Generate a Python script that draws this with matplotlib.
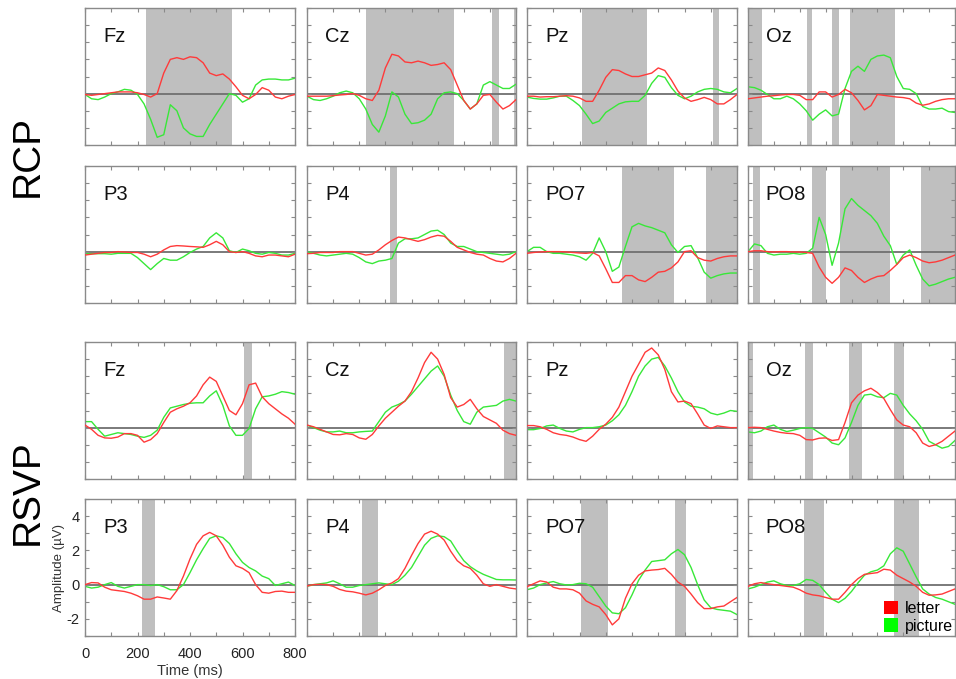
import numpy as np
import matplotlib
matplotlib.use("Agg")
import matplotlib.pyplot as plt
from matplotlib.patches import Patch

plt.rcParams['font.family'] = ['Liberation Sans', 'DejaVu Sans']

# ---------------- data ----------------
time_ms = list(range(0, 801, 25))  # 33 samples
channels = ["Fz", "Cz", "Pz", "Oz", "P3", "P4", "PO7", "PO8"]
paradigms = ["RCP", "RSVP"]

# RCP ---------------------------------------------------------------
rcp_fz_letter = [-0.05, -0.1, -0.05, 0.0, 0.05, 0.1, 0.1, 0.1, 0.05, -0.05, -0.2, 0.0, 1.2, 2.0, 2.1, 2.0, 2.15,
                 2.1, 1.8, 1.2, 1.05, 1.15, 0.85, 0.4, -0.1, -0.3, -0.05, 0.35, 0.2, -0.2, -0.3, -0.15, -0.05]
rcp_fz_picture = [-0.05, -0.3, -0.35, -0.2, 0.0, 0.1, 0.25, 0.2, -0.05, -0.6, -1.5, -2.55, -2.4, -0.65, -1.0, -2.0,
                  -2.35, -2.5, -2.5, -1.8, -1.2, -0.6, 0.0, -0.1, -0.5, -0.3, 0.5, 0.8, 0.85, 0.85, 0.8, 0.8, 0.9]
rcp_cz_letter = [-0.15, -0.15, -0.15, -0.15, -0.12, -0.08, -0.05, 0.0, -0.1, -0.3, -0.4, 0.2, 1.5, 2.3, 2.2, 1.85,
                 1.8, 1.9, 1.8, 1.65, 1.7, 1.8, 1.4, 0.5, -0.4, -0.9, -0.6, -0.1, -0.05, -0.5, -0.9, -0.7, -0.35]
rcp_cz_picture = [-0.15, -0.35, -0.4, -0.3, -0.15, 0.05, 0.15, 0.05, -0.3, -0.9, -1.8, -2.25, -1.3, 0.1, -0.2, -1.2,
                  -1.75, -1.7, -1.55, -1.2, -0.3, 0.05, 0.1, 0.0, -0.4, -0.9, -0.6, 0.5, 0.7, 0.5, 0.3, 0.3, 0.55]
rcp_pz_letter = [-0.15, -0.15, -0.2, -0.18, -0.18, -0.15, -0.12, -0.15, -0.25, -0.45, -0.45, 0.2, 0.95, 1.4, 1.35,
                 1.15, 1.0, 1.0, 1.1, 1.2, 1.5, 1.35, 0.8, 0.15, -0.25, -0.45, -0.35, -0.22, -0.35, -0.6, -0.6,
                 -0.35, -0.05]
rcp_pz_picture = [-0.2, -0.28, -0.32, -0.32, -0.25, -0.15, -0.15, -0.4, -0.7, -1.2, -1.75, -1.6, -1.1, -0.85, -0.6,
                  -0.48, -0.45, -0.45, -0.1, 0.6, 1.05, 0.95, 0.35, -0.1, -0.3, -0.15, 0.1, 0.25, 0.3, 0.25, 0.1,
                  0.05, 0.3]
rcp_oz_letter = [-0.3, -0.25, -0.2, -0.15, -0.12, -0.08, -0.05, -0.05, -0.1, -0.35, -0.35, 0.1, 0.1, -0.2, -0.05,
                 0.25, 0.05, -0.4, -0.95, -0.7, -0.05, -0.1, -0.15, -0.2, -0.23, -0.3, -0.55, -0.68, -0.6, -0.45,
                 -0.35, -0.3, -0.3]
rcp_oz_picture = [0.4, 0.35, 0.2, -0.05, -0.3, -0.3, -0.15, -0.3, -0.6, -1.0, -1.55, -1.2, -0.95, -1.3, -1.2, 0.3,
                  1.3, 1.6, 1.3, 2.0, 2.2, 2.25, 2.1, 1.0, 0.3, 0.25, 0.0, -0.75, -0.9, -0.9, -0.85, -1.05, -1.1]
rcp_p3_letter = [-0.2, -0.15, -0.1, -0.05, -0.05, 0.0, -0.02, -0.05, -0.05, -0.15, -0.3, -0.15, 0.1, 0.3, 0.35,
                 0.33, 0.3, 0.28, 0.25, 0.4, 0.6, 0.4, 0.0, -0.05, 0.0, -0.1, -0.25, -0.3, -0.2, -0.2, -0.25, -0.3,
                 -0.15]
rcp_p3_picture = [-0.12, -0.12, -0.12, -0.12, -0.15, -0.1, -0.1, -0.1, -0.35, -0.7, -1.05, -0.7, -0.4, -0.5, -0.5,
                  -0.3, -0.05, 0.15, 0.3, 0.8, 1.1, 0.8, 0.05, -0.05, 0.15, 0.05, -0.1, -0.15, -0.05, -0.1, -0.2,
                  -0.2, -0.1]
rcp_p4_letter = [-0.12, -0.1, -0.05, -0.05, -0.05, 0.0, 0.0, 0.0, -0.1, -0.2, -0.15, 0.1, 0.4, 0.65, 0.85, 0.8,
                 0.7, 0.6, 0.7, 0.85, 0.95, 0.9, 0.6, 0.25, 0.1, -0.05, -0.15, -0.2, -0.4, -0.55, -0.6, -0.4, -0.1]
rcp_p4_picture = [0.0, -0.1, -0.2, -0.25, -0.2, -0.15, -0.1, -0.15, -0.35, -0.6, -0.7, -0.55, -0.5, -0.4, 0.5,
                  0.75, 0.75, 0.8, 1.0, 1.2, 1.25, 1.0, 0.5, 0.3, 0.3, 0.15, 0.0, -0.05, -0.1, -0.15, -0.2, -0.15,
                  0.0]
rcp_po7_letter = [-0.1, -0.05, -0.02, 0.0, 0.0, 0.0, -0.02, -0.05, -0.08, -0.1, -0.05, -0.25, -1.0, -1.8, -1.8,
                  -1.4, -1.4, -1.65, -1.75, -1.5, -1.2, -1.15, -0.95, -0.6, 0.0, 0.05, -0.35, -0.5, -0.55, -0.4,
                  -0.3, -0.25, -0.25]
rcp_po7_picture = [0.0, 0.25, 0.25, 0.0, -0.1, -0.1, -0.15, -0.2, -0.3, -0.5, -0.1, 0.8, 0.0, -1.15, -0.9, 0.3,
                   1.45, 1.65, 1.5, 1.4, 1.25, 1.1, 0.4, -0.05, 0.3, 0.35, -0.35, -1.2, -1.55, -1.4, -1.3, -1.25,
                   -1.25]
rcp_po8_letter = [0.0, 0.05, 0.05, 0.0, -0.02, 0.0, 0.0, -0.02, -0.02, -0.05, -0.1, -0.9, -1.5, -1.85, -1.5, -0.95,
                  -1.1, -1.5, -1.8, -1.6, -1.45, -1.4, -1.1, -0.75, -0.35, -0.2, -0.35, -0.55, -0.65, -0.6, -0.5,
                  -0.35, -0.2]
rcp_po8_picture = [0.0, 0.45, 0.35, -0.1, -0.2, -0.15, -0.15, -0.1, -0.15, -0.1, 0.2, 2.0, 1.0, -0.8, 0.5, 2.5,
                   3.1, 2.7, 2.4, 2.1, 1.65, 0.9, 0.35, -0.75, -0.2, 0.1, -0.8, -1.6, -2.0, -1.9, -1.75, -1.6, -1.5]

# RSVP --------------------------------------------------------------
rsvp_fz_letter = [0.15, -0.1, -0.45, -0.6, -0.62, -0.55, -0.35, -0.35, -0.45, -0.85, -0.7, -0.35, 0.3, 0.9, 1.1,
                  1.25, 1.45, 1.85, 2.5, 2.95, 2.7, 1.85, 1.0, 0.75, 1.4, 2.5, 2.6, 1.8, 1.4, 1.1, 0.8, 0.55, 0.2]
rsvp_fz_picture = [0.35, 0.35, -0.1, -0.5, -0.4, -0.3, -0.35, -0.4, -0.5, -0.57, -0.45, -0.15, 0.6, 1.15, 1.25,
                   1.35, 1.42, 1.45, 1.45, 1.85, 2.15, 1.3, 0.1, -0.45, -0.45, -0.05, 1.1, 1.8, 1.85, 1.95, 2.1,
                   2.05, 1.95]
rsvp_cz_letter = [0.15, 0.05, -0.1, -0.25, -0.4, -0.42, -0.35, -0.4, -0.6, -0.68, -0.4, 0.1, 0.55, 0.9, 1.25, 1.55,
                  2.1, 2.9, 3.8, 4.4, 4.0, 3.1, 1.75, 1.2, 1.35, 1.65, 1.1, 0.65, 0.45, 0.25, -0.15, -0.35, -0.45]
rsvp_cz_picture = [0.15, 0.0, -0.15, -0.25, -0.25, -0.2, -0.3, -0.3, -0.25, -0.22, -0.2, 0.35, 0.9, 1.2, 1.35,
                   1.55, 1.95, 2.4, 2.85, 3.3, 3.6, 3.0, 1.9, 1.0, 0.35, 0.2, 0.9, 1.2, 1.25, 1.3, 1.55, 1.65, 1.55]
rsvp_pz_letter = [0.12, 0.12, 0.05, -0.1, -0.3, -0.4, -0.45, -0.55, -0.7, -0.8, -0.5, -0.1, 0.2, 0.6, 1.2, 2.1,
                  3.0, 3.7, 4.4, 4.65, 4.25, 3.4, 2.1, 1.5, 1.55, 1.4, 0.8, 0.15, -0.05, 0.1, 0.05, 0.0, 0.0]
rsvp_pz_picture = [-0.12, -0.12, -0.05, 0.1, 0.15, -0.05, -0.2, -0.25, -0.1, 0.0, 0.0, 0.05, 0.15, 0.4, 0.75, 1.3,
                   2.1, 3.0, 3.6, 4.0, 4.1, 3.6, 2.9, 2.1, 1.5, 1.25, 1.2, 1.1, 0.85, 0.75, 0.85, 1.0, 0.95]
rsvp_oz_letter = [0.0, 0.02, 0.0, -0.1, -0.2, -0.28, -0.33, -0.35, -0.45, -0.7, -0.72, -0.62, -0.6, -0.75, -0.7,
                  0.3, 1.45, 1.9, 2.15, 2.3, 2.05, 1.7, 1.05, 0.45, 0.15, 0.05, -0.3, -0.9, -1.1, -1.0, -0.8, -0.5,
                  -0.2]
rsvp_oz_picture = [-0.25, -0.3, -0.2, 0.05, 0.15, -0.1, -0.23, -0.15, -0.05, 0.0, -0.05, -0.3, -0.55, -0.9, -1.0,
                   -0.6, 0.3, 1.3, 1.9, 1.95, 1.8, 1.75, 2.0, 1.9, 1.3, 0.8, 0.4, -0.1, -0.8, -1.0, -1.2, -1.1,
                   -0.75]
rsvp_p3_letter = [0.0, 0.12, 0.1, -0.15, -0.3, -0.35, -0.4, -0.5, -0.65, -0.85, -0.85, -0.72, -0.78, -0.85, -0.35,
                  0.5, 1.5, 2.35, 2.85, 3.05, 2.85, 2.3, 1.6, 1.1, 0.95, 0.7, 0.0, -0.45, -0.5, -0.4, -0.38, -0.45,
                  -0.45]
rsvp_p3_picture = [-0.1, -0.2, -0.15, 0.0, 0.12, -0.1, -0.2, -0.1, 0.0, 0.0, -0.05, 0.0, -0.12, -0.3, -0.3, 0.0,
                   0.7, 1.45, 2.1, 2.7, 2.85, 2.75, 2.4, 1.8, 1.3, 1.0, 0.8, 0.5, 0.35, -0.05, 0.05, 0.15, -0.05]
rsvp_p4_letter = [-0.08, 0.0, 0.02, 0.0, -0.1, -0.28, -0.38, -0.42, -0.5, -0.6, -0.5, -0.3, -0.05, 0.1, 0.35,
                  0.95, 1.7, 2.4, 2.95, 3.12, 2.95, 2.6, 1.95, 1.4, 1.1, 0.95, 0.55, 0.05, -0.1, 0.0, -0.1, -0.2,
                  -0.25]
rsvp_p4_picture = [-0.1, 0.0, 0.05, 0.1, 0.22, 0.05, -0.15, -0.15, -0.05, 0.0, 0.05, 0.1, 0.05, 0.0, 0.2, 0.55,
                   1.0, 1.65, 2.3, 2.7, 2.85, 2.8, 2.55, 1.95, 1.4, 1.05, 0.8, 0.6, 0.45, 0.3, 0.28, 0.28, 0.27]
rsvp_po7_letter = [-0.12, 0.05, 0.22, 0.15, -0.15, -0.25, -0.25, -0.3, -0.5, -0.95, -1.15, -1.3, -1.75, -2.35,
                   -2.0, -0.8, 0.05, 0.55, 0.8, 0.85, 0.88, 0.95, 0.6, 0.15, -0.1, -0.55, -1.05, -1.4, -1.4, -1.3,
                   -1.25, -1.0, -0.75]
rsvp_po7_picture = [-0.3, -0.2, 0.0, 0.1, 0.18, 0.05, -0.02, 0.0, 0.08, 0.05, -0.15, -0.7, -1.25, -1.65, -1.7,
                    -1.35, -0.6, 0.25, 0.85, 1.35, 1.4, 1.45, 1.8, 2.05, 1.75, 1.0, 0.0, -0.9, -1.35, -1.45, -1.5,
                    -1.55, -1.75]
rsvp_po8_letter = [-0.1, 0.05, 0.12, 0.05, 0.0, -0.05, -0.1, -0.15, -0.3, -0.5, -0.6, -0.65, -0.75, -0.85, -0.85,
                   -0.45, 0.0, 0.35, 0.6, 0.65, 0.7, 0.9, 0.85, 0.55, 0.35, 0.15, -0.1, -0.45, -0.62, -0.6, -0.55,
                   -0.4, -0.25]
rsvp_po8_picture = [-0.25, -0.15, 0.0, 0.15, 0.22, 0.05, -0.05, -0.05, 0.05, 0.3, 0.25, 0.0, -0.45, -0.85, -1.05,
                    -0.8, -0.4, 0.1, 0.55, 0.75, 0.85, 1.1, 1.8, 2.15, 1.95, 1.2, 0.45, -0.25, -0.55, -0.75, -0.85,
                    -1.0, -1.15]

# significant intervals (ms)
rcp_sig = {
    "Fz": [(232, 559)],
    "Cz": [(225, 562), (710, 736), (792, 800)],
    "Pz": [(208, 456), (709, 730)],
    "Oz": [(0, 54), (228, 248), (326, 351), (396, 570)],
    "P3": [],
    "P4": [(316, 346)],
    "PO7": [(362, 560), (681, 800)],
    "PO8": [(19, 48), (246, 303), (355, 548), (668, 800)],
}
rsvp_sig = {
    "Fz": [(607, 635)],
    "Cz": [(754, 800)],
    "Pz": [],
    "Oz": [(0, 19), (222, 252), (390, 439), (564, 603)],
    "P3": [(218, 267)],
    "P4": [(212, 270)],
    "PO7": [(205, 307), (564, 605)],
    "PO8": [(217, 295), (563, 660)],
}

series = {
    ("RCP", "Fz"): (rcp_fz_letter, rcp_fz_picture),
    ("RCP", "Cz"): (rcp_cz_letter, rcp_cz_picture),
    ("RCP", "Pz"): (rcp_pz_letter, rcp_pz_picture),
    ("RCP", "Oz"): (rcp_oz_letter, rcp_oz_picture),
    ("RCP", "P3"): (rcp_p3_letter, rcp_p3_picture),
    ("RCP", "P4"): (rcp_p4_letter, rcp_p4_picture),
    ("RCP", "PO7"): (rcp_po7_letter, rcp_po7_picture),
    ("RCP", "PO8"): (rcp_po8_letter, rcp_po8_picture),
    ("RSVP", "Fz"): (rsvp_fz_letter, rsvp_fz_picture),
    ("RSVP", "Cz"): (rsvp_cz_letter, rsvp_cz_picture),
    ("RSVP", "Pz"): (rsvp_pz_letter, rsvp_pz_picture),
    ("RSVP", "Oz"): (rsvp_oz_letter, rsvp_oz_picture),
    ("RSVP", "P3"): (rsvp_p3_letter, rsvp_p3_picture),
    ("RSVP", "P4"): (rsvp_p4_letter, rsvp_p4_picture),
    ("RSVP", "PO7"): (rsvp_po7_letter, rsvp_po7_picture),
    ("RSVP", "PO8"): (rsvp_po8_letter, rsvp_po8_picture),
}

# ---------------- layout ----------------
W, H = 956, 679
fig = plt.figure(figsize=(W / 100, H / 100), dpi=100)

col_left = [85, 307, 527, 748]
col_width = [210, 209, 210, 207]
row_top = [8, 166, 342, 499]
row_h = 137

red = "#ff3a3a"
green = "#38e838"
shade = "#bfbfbf"
spine_c = "#8a8a8a"

for p_i, par in enumerate(paradigms):
    sig = rcp_sig if par == "RCP" else rsvp_sig
    for c_i, ch in enumerate(channels):
        r = p_i * 2 + c_i // 4
        c = c_i % 4
        left = col_left[c] / W
        bottom = 1 - (row_top[r] + row_h) / H
        ax = fig.add_axes([left, bottom, col_width[c] / W, row_h / H])
        for (a, b) in sig[ch]:
            ax.axvspan(a, b, color=shade, lw=0, zorder=0)
        ax.axhline(0, color="#707070", lw=1.3, zorder=1)
        let, pic = series[(par, ch)]
        ax.plot(time_ms, pic, color=green, lw=1.0, zorder=2, solid_joinstyle="round")
        ax.plot(time_ms, let, color=red, lw=1.0, zorder=3, solid_joinstyle="round")
        ax.set_xlim(0, 800)
        ax.set_ylim(-3, 5)
        ax.set_xticks(range(0, 801, 100))
        ax.set_yticks(range(-3, 6))
        ax.tick_params(direction="in", top=True, right=True, length=3, width=0.8,
                       color=spine_c, labelsize=10.5, labelcolor="#222222")
        for s in ax.spines.values():
            s.set_color(spine_c)
            s.set_linewidth(1.0)
        ax.text(0.086, 0.79, ch, transform=ax.transAxes, fontsize=14.5,
                va="center", ha="left", color="#111111")
        if r == 3 and c == 0:
            ax.set_xticklabels(["0", "", "200", "", "400", "", "600", "", "800"])
            ax.set_yticklabels(["", "-2", "", "0", "", "2", "", "4", ""])
            ax.tick_params(axis="x", pad=8)
            ax.tick_params(axis="y", pad=4)
            ax.set_xlabel("Time (ms)", fontsize=10.5, color="#333333", labelpad=2)
            ax.set_ylabel("Amplitude (\u00b5V)", fontsize=9.5, color="#333333", labelpad=1)
        else:
            ax.set_xticklabels([])
            ax.set_yticklabels([])
        if r == 3 and c == 3:
            handles = [Patch(facecolor="#ff0000", edgecolor="none", label="letter"),
                       Patch(facecolor="#00ff00", edgecolor="none", label="picture")]
            ax.legend(handles=handles, loc="lower right", frameon=False, fontsize=11.5,
                      handlelength=0.9, handleheight=0.9, handletextpad=0.4,
                      labelspacing=0.15, borderaxespad=0.1, borderpad=0.05)

fig.text(28 / W, 1 - 156 / H, "RCP", rotation=90, fontsize=28, ha="center", va="center")
fig.text(28 / W, 1 - 492 / H, "RSVP", rotation=90, fontsize=28, ha="center", va="center")

fig.savefig("out.png", dpi=100)
